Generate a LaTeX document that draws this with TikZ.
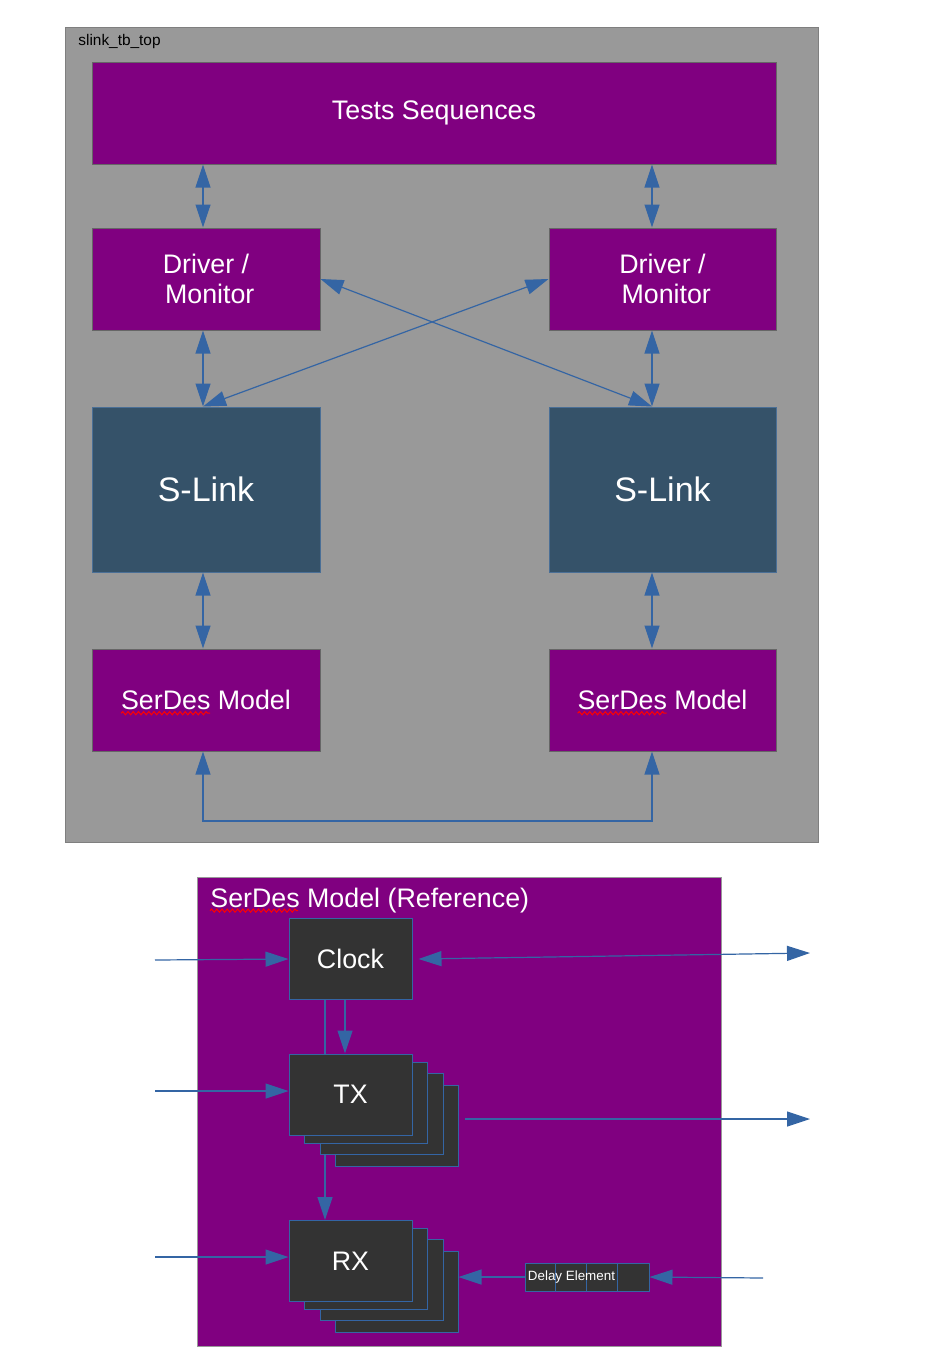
\documentclass[tikz,border=0pt]{standalone}
\usepackage{fontspec}
\setmainfont{Liberation Sans}
\usetikzlibrary{arrows.meta,decorations.pathmorphing}
\definecolor{tbgray}{HTML}{999999}
\definecolor{tbedge}{HTML}{7F7F7F}
\definecolor{slpurple}{HTML}{800080}
\definecolor{boxedge}{HTML}{666666}
\definecolor{slate}{HTML}{355269}
\definecolor{slateedge}{HTML}{4A6F96}
\definecolor{arrowblue}{HTML}{3465A4}
\definecolor{darkbox}{HTML}{333333}
\begin{document}
\begin{tikzpicture}[x=0.5pt,y=-0.5pt,
    >={Triangle[length=11.5pt,width=7.5pt]},
    arrow/.style = {draw=arrowblue,line width=0.6pt,->},
    dbl/.style = {arrow,<->},
    block/.style = {draw=boxedge,line width=0.5pt,fill=slpurple,text=white,inner sep=0pt,
        minimum width=114pt,minimum height=51pt,align=center,font=\fontsize{13.4}{15}\selectfont},
    link/.style = {block,fill=slate,draw=slateedge,minimum height=82.5pt,font=\fontsize{17}{20}\selectfont},
    unit/.style = {draw=arrowblue,line width=0.5pt,fill=darkbox,text=white,inner sep=0pt,
        minimum width=61.5pt,minimum height=40.5pt,font=\fontsize{13.4}{15}\selectfont},
    squiggle/.style = {red,line width=0.5pt,decorate,decoration={snake,amplitude=0.8pt,segment length=2.6pt}}]
                \useasboundingbox (0,0) rectangle (939,1362);

                \draw[draw=tbedge,fill=tbgray] (65,27) rectangle (818,842);
                \node[anchor=west,inner sep=0pt,font=\fontsize{7.7}{9}\selectfont] (tbname) at (78,42) {slink\_tb\_top};

                \node[block,minimum width=342pt] (tests) at (434,113) {Tests Sequences};
                \node[block] (drvL) at (206,279) {Driver /\\~Monitor};
                \node[block,minimum width=113.5pt] (drvR) at (662.5,279) {Driver /\\~Monitor};
                \node[link] (slinkL) at (206,489.5) {S-Link};
                \node[link,minimum width=113.5pt] (slinkR) at (662.5,489.5) {S-Link};
                \node[block] (serL) at (206,700) {SerDes Model};
                \node[block,minimum width=113.5pt] (serR) at (662.5,700) {SerDes Model};
                \draw[squiggle] ([xshift=-42.4pt,yshift=-6.6pt]serL.center) -- ++(89,0);
                \draw[squiggle] ([xshift=-42.4pt,yshift=-6.6pt]serR.center) -- ++(89,0);

                \coordinate (xl) at (203,0);
                \coordinate (xr) at (652,0);
                \coordinate (yb) at (0,821);
                \draw[dbl] (tests.south -| xl) -- (drvL.north -| xl);
                \draw[dbl] (tests.south -| xr) -- (drvR.north -| xr);
                \draw[dbl] (drvL.south -| xl) -- (slinkL.north -| xl);
                \draw[dbl] (drvR.south -| xr) -- (slinkR.north -| xr);
                \draw[dbl] (slinkL.south -| xl) -- (serL.north -| xl);
                \draw[dbl] (slinkR.south -| xr) -- (serR.north -| xr);
                \draw[dbl] (drvL.east) -- (slinkR.north -| xr);
                \draw[dbl] (drvR.west) -- (slinkL.north -| xl);
                \draw[dbl] (serL.south -| xl) -- (xl |- yb) -- (xr |- yb) -- (serR.south -| xr);

                \draw[draw=tbgray,fill=slpurple] (197,877) rectangle (721,1346);
                \node[anchor=base west,inner sep=0pt,text=white,font=\fontsize{13.4}{15}\selectfont] 
                    (reftitle) at (210,907) {SerDes Model (Reference)};
                \draw[squiggle] ([yshift=-1.8pt]reftitle.base west) -- ++(88,0);

                \node[unit] (clock) at (350.5,959) {Clock};
                \foreach \n/\dx/\dy in {3/46/31,2/31/19,1/15/8}
                    \node[unit] (tx\n) at (350.5+\dx,1094.5+\dy) {};
                \node[unit] (tx) at (350.5,1094.5) {TX};
                \foreach \n/\dx/\dy in {3/46/31,2/31/19,1/15/8}
                    \node[unit] (rx\n) at (350.5+\dx,1261+\dy) {};
                \node[unit] (rx) at (350.5,1261) {RX};

                \node[draw=arrowblue,line width=0.5pt,fill=darkbox,inner sep=0pt,
                    minimum width=62pt,minimum height=14pt] (delay) at (587,1277) {};
                \foreach \i in {1,2,3}
                    \draw[arrowblue,line width=0.5pt] ([xshift=\i*15.5pt]delay.north west) -- ([xshift=\i*15.5pt]delay.south west);
                \node[anchor=west,inner sep=0pt,text=white,font=\fontsize{6.7}{8}\selectfont] 
                    (delaytxt) at ([xshift=1.5pt]delay.west) {Delay Element};

                \coordinate (clkin) at (155,960);
                \coordinate (clkout) at (810,953);
                \coordinate (txin) at (155,1091);
                \coordinate (txout) at (810,1119);
                \coordinate (txo) at ([xshift=3pt]tx3.east);
                \coordinate (rxin) at (155,1257);
                \coordinate (dlyin) at (763,1278);
                \coordinate (xc) at (345,0);
                \coordinate (xd) at (325,0);
                \draw[arrow] (clkin) -- (clock.west);
                \draw[dbl] ([xshift=3pt]clock.east) -- (clkout);
                \draw[arrow] (clock.south -| xc) -- (tx.north -| xc);
                \draw[arrowblue,line width=0.6pt] (clock.south -| xd) -- (tx.north -| xd);
                \draw[arrow] (tx2.south -| xd) -- (rx.north -| xd);
                \draw[arrow] (txin) -- (tx.west |- txin);
                \draw[arrow] (txo |- txout) -- (txout);
                \draw[arrow] (rxin) -- (rx.west |- rxin);
                \draw[arrow] (delay.west) -- (rx3.east |- delay.west);
                \draw[arrow] (dlyin) -- (delay.east);
            \end{tikzpicture}
\end{document}
